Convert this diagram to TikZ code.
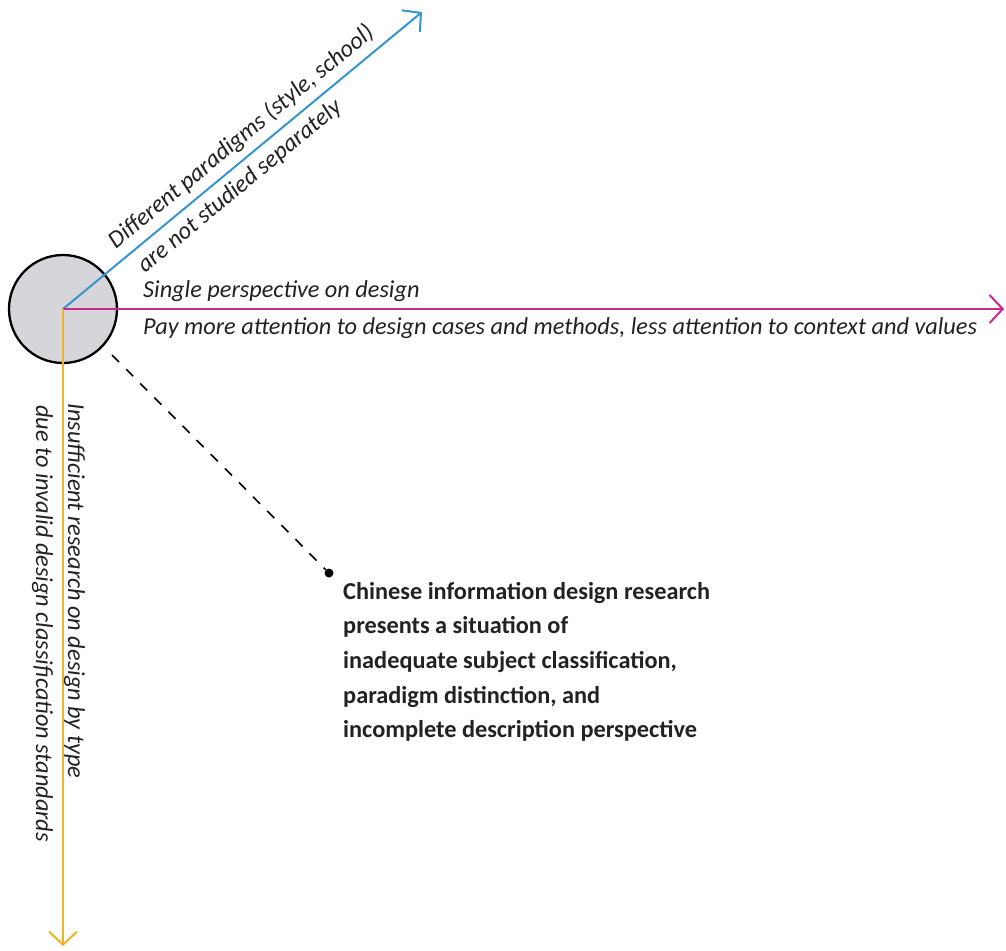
\documentclass[tikz,border=0pt]{standalone}
\usepackage{fontspec}
\setmainfont{Carlito}
\usetikzlibrary{arrows.meta}
\definecolor{axisblue}{RGB}{52,150,205}
\definecolor{axismagenta}{RGB}{200,40,140}
\definecolor{axisyellow}{RGB}{238,180,40}
\definecolor{hubgrey}{RGB}{214,214,218}
\definecolor{inkdark}{RGB}{34,34,34}
\begin{document}
\begin{tikzpicture}[x=1pt,y=-1pt,
  axis/.style={line width=2pt,-{Straight Barb[length=13pt,width=28pt,line width=2pt]}},
  lbl/.style={font=\fontsize{24.3}{29}\selectfont\itshape,text=inkdark,inner sep=0pt},
  summary/.style={font=\fontsize{24.3}{34.6}\selectfont\bfseries,text=inkdark,align=left,inner sep=0pt}]
\useasboundingbox (0,0) rectangle (1006,950);
\fill[white] (0,0) rectangle (1006,950);
% hub circle
\node[circle,draw=black,line width=2.3pt,fill=hubgrey,minimum size=108pt,inner sep=0pt] (hub) at (63,309) {};
\coordinate (c) at (63,309);
\coordinate (tipB) at (422,12);
\coordinate (tipM) at (1004,309);
\coordinate (tipY) at (63,946);
% axes
\draw[axis,axisblue] (c) -- (tipB)
  node[lbl,pos=0.53,sloped,above=7pt] (bup) {Different paradigms (style, school)}
  node[lbl,pos=0.46,sloped,below=7pt] (bdn) {are not studied separately};
\draw[axis,axismagenta] (c) -- (tipM);
\draw[axis,axisyellow] (c) -- (tipY);
% magenta labels
\node[lbl,anchor=base west] (m1) at (143,297) {Single perspective on design};
\node[lbl,anchor=base west] (m2) at (143,334) {Pay more attention to design cases and methods, less attention to context and values};
% yellow labels (vertical)
\node[lbl,rotate=-90,anchor=base west] (y1) at (68,403) {Insufficient research on design by type};
\node[lbl,rotate=-90,anchor=base west] (y2) at (36,405) {due to invalid design classification standards};
% dashed pointer to summary
\coordinate (ds) at (112,355);
\node[circle,fill=black,minimum size=9pt,inner sep=0pt] (dot) at (329,573) {};
\draw[dashed,dash pattern=on 10pt off 10pt,line width=1.6pt] (ds) -- (dot);
\node[summary,anchor=north west] (sum) at (343,582) {Chinese information design research\\presents a situation of\\inadequate subject classification,\\paradigm distinction, and\\incomplete description perspective};
\end{tikzpicture}
\end{document}
